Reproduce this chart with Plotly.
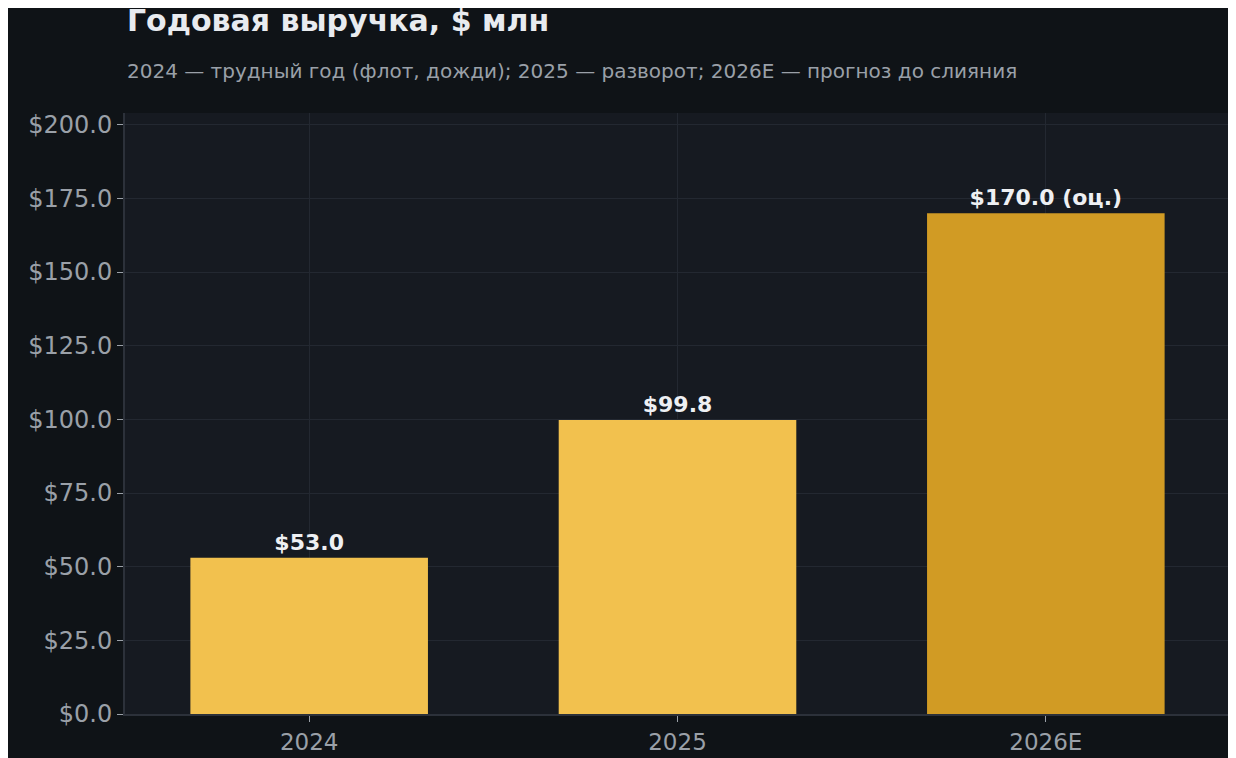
import plotly.graph_objects as go

categories = ["2024", "2025", "2026E"]
values = [53.0, 99.8, 170.0]
labels = ["$53.0", "$99.8", "$170.0 (оц.)"]
colors = ["#f2c14e", "#f2c14e", "#d19b24"]

fig = go.Figure(go.Bar(
    x=categories, y=values, marker=dict(color=colors, line_width=0), width=0.645,
    text=labels, textposition="outside", cliponaxis=False,
    textfont=dict(family="DejaVu Sans", size=22, color="#eef0f3"),
))
fig.update_traces(texttemplate="<b>%{text}</b>")
fig.update_layout(
    width=1236, height=758,
    paper_bgcolor="#0f1317", plot_bgcolor="#161a21",
    font=dict(family="DejaVu Sans", color="#9aa0a8"),
    margin=dict(l=117, r=14, t=105, b=52),
    showlegend=False,
    annotations=[
        dict(text="<b>Годовая выручка, $ млн</b>", xref="paper", yref="paper", x=0, y=1.0,
             yshift=93, xanchor="left", yanchor="middle", showarrow=False,
             font=dict(size=30, color="#e8ebef")),
        dict(text="2024 — трудный год (флот, дожди); 2025 — разворот; 2026E — прогноз до слияния",
             xref="paper", yref="paper", x=0, y=1.0, yshift=42, xanchor="left", yanchor="middle",
             showarrow=False, font=dict(size=20, color="#9aa0a8")),
    ],
    xaxis=dict(showgrid=True, gridcolor="#232831", ticks="outside", tickcolor="#9aa0a8", ticklen=6,
               tickfont=dict(size=23), showline=True, linecolor="#2c313a", linewidth=2),
    yaxis=dict(range=[0, 204], dtick=25, tickformat="$.1f", gridcolor="#232831", ticks="outside",
               tickcolor="#9aa0a8", ticklen=6, tickfont=dict(size=24), showline=True,
               linecolor="#2c313a", linewidth=2, zeroline=False),
)
fig.write_html("out.html")
